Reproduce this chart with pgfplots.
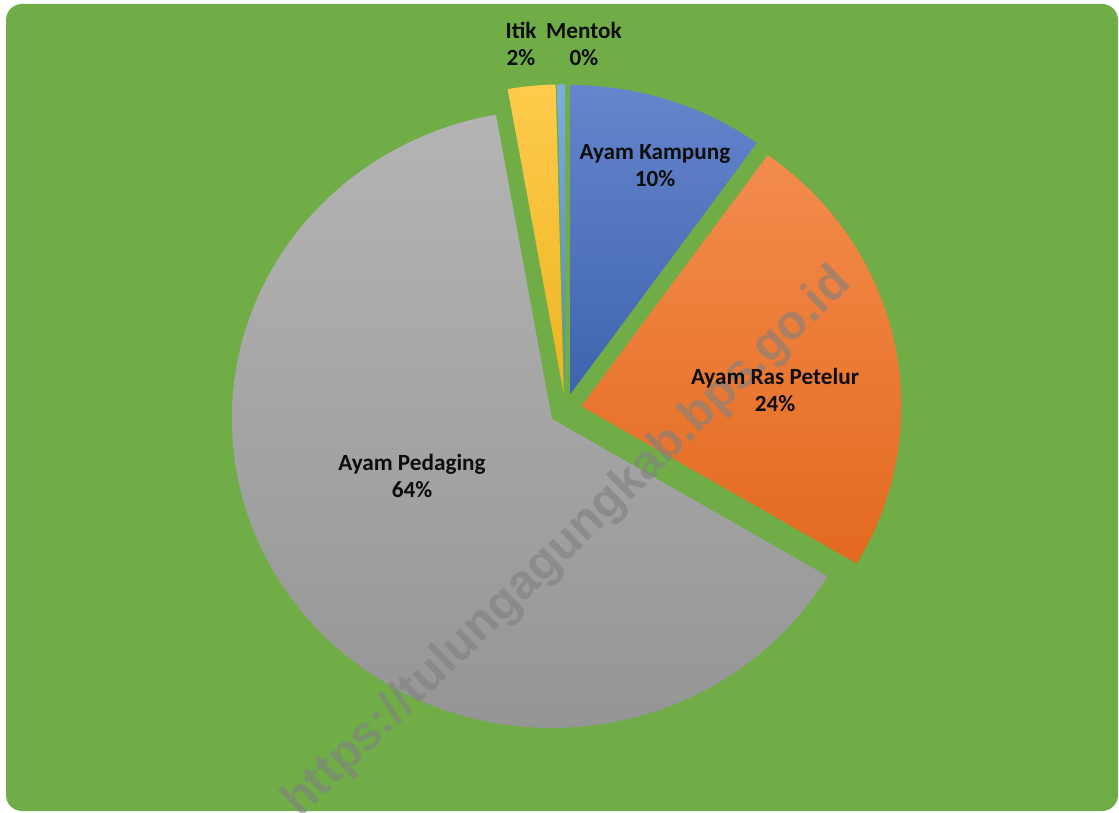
\documentclass[border=0pt]{standalone}
\usepackage{pgfplots}
\pgfplotsset{compat=1.18}
\usepackage{pgfplotstable}
\usepackage{fontspec}
\setmainfont{Carlito}
\newfontfamily\wmfont{Liberation Sans}

\definecolor{bg}{HTML}{70AD47}
% slice gradients: top / middle / bottom
\definecolor{top0}{HTML}{6585CC}\definecolor{mid0}{HTML}{4A72C2}\definecolor{bot0}{HTML}{3E64AF}
\definecolor{top1}{HTML}{F38C4C}\definecolor{mid1}{HTML}{F37B25}\definecolor{bot1}{HTML}{E3691F}
\definecolor{top2}{HTML}{B4B4B4}\definecolor{mid2}{HTML}{A6A4A5}\definecolor{bot2}{HTML}{939393}
\definecolor{top3}{HTML}{FFCB4C}\definecolor{mid3}{HTML}{FFC000}\definecolor{bot3}{HTML}{EDB421}
\definecolor{top4}{HTML}{7BAEE0}\definecolor{mid4}{HTML}{5B9BD5}\definecolor{bot4}{HTML}{4F8ACB}

% share of each kind of poultry (percent), label position in px
\pgfplotstableread[col sep=comma]{
name,pct,val,lx,ly
Ayam Kampung,10,9.9,655,166
Ayam Ras Petelur,24,23.6,775,390
Ayam Pedaging,64,63.7,412,476
Itik,2,2.4,521,44
Mentok,0,0.4,584,44
}\pietable

\begin{document}
\begin{tikzpicture}
\begin{axis}[
  x=0.25mm, y=0.25mm, y dir=reverse,
  xmin=0, xmax=1119, ymin=0, ymax=812,
  hide axis, clip=false,
]
\pgfplotsextra{
  \fill[white] (axis cs:0,0) rectangle (axis cs:1119,812);
  \fill[bg, rounded corners=4mm] (axis cs:6,4) rectangle (axis cs:1118,811);
  \xdef\cum{0}
  \foreach \i in {0,...,4}{
    \pgfplotstablegetelem{\i}{val}\of\pietable \let\v\pgfplotsretval
    \pgfmathsetmacro\a{\cum*3.6}
    \pgfmathsetmacro\b{(\cum+\v)*3.6}
    \pgfmathsetmacro\m{(\a+\b)/2}
    \pgfmathsetmacro\px{565.3+16.3*sin(\m)}
    \pgfmathsetmacro\py{409.6-16.3*cos(\m)}
    \path[top color=top\i, middle color=mid\i, bottom color=bot\i]
      (axis cs:\px,\py) -- ++({90-\a}:80mm and 77.25mm)
      arc[start angle={90-\a}, end angle={90-\b}, x radius=80mm, y radius=77.25mm] -- cycle;
    \pgfmathsetmacro\c{\cum+\v}\xdef\cum{\c}
  }
  \begin{scope}
    \clip (axis cs:0,0) rectangle (axis cs:1119,812);
    \node[rotate=44, text=black!50, opacity=0.6, font=\wmfont\bfseries\fontsize{34.5}{40}\selectfont]
      at (axis cs:568,543) {https://tulungagungkab.bps.go.id};
  \end{scope}
  \foreach \i in {0,...,4}{
    \pgfplotstablegetelem{\i}{name}\of\pietable \let\nm\pgfplotsretval
    \pgfplotstablegetelem{\i}{pct}\of\pietable \let\pc\pgfplotsretval
    \pgfplotstablegetelem{\i}{lx}\of\pietable \let\lx\pgfplotsretval
    \pgfplotstablegetelem{\i}{ly}\of\pietable \let\ly\pgfplotsretval
    \node[align=center, text=black!95, font=\bfseries\fontsize{16.5}{19.2}\selectfont]
      at (axis cs:\lx,\ly) {\nm\\\pc\%};
  }
}
\end{axis}
\end{tikzpicture}
\end{document}
